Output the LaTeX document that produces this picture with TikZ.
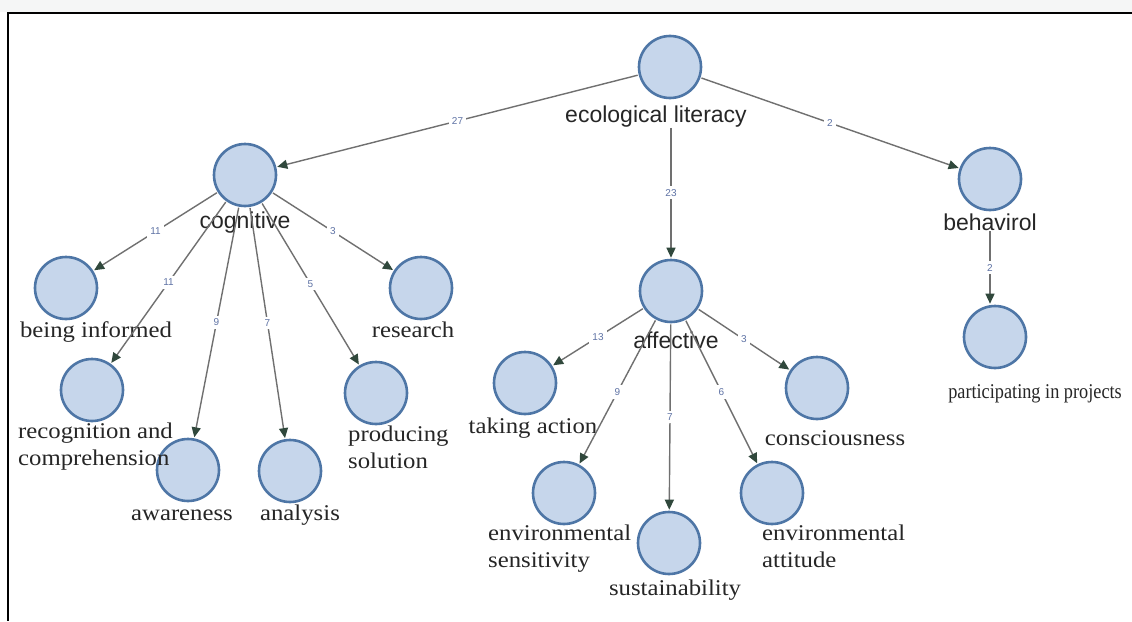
\documentclass[tikz,border=0pt]{standalone}
\usepackage{fontspec}
\usetikzlibrary{arrows.meta}

\setmainfont{Liberation Serif}
\newfontfamily\labelsans{Liberation Sans}
\newfontfamily\labelserif[FakeStretch=1.1]{Liberation Serif}
\newfontfamily\labelnarrow[FakeStretch=0.87]{Liberation Serif}

\definecolor{nodefill}{RGB}{198,214,235}
\definecolor{nodeborder}{RGB}{78,118,166}
\definecolor{edgecolor}{RGB}{112,112,112}
\definecolor{tipcolor}{RGB}{48,72,60}
\definecolor{numcolor}{RGB}{95,115,165}
\definecolor{bandcolor}{RGB}{245,246,246}

\tikzset{
    concept/.style={circle, draw=nodeborder, fill=nodefill, line width=2.6pt, minimum size=62pt, inner sep=0pt},
    toplabel/.style={font=\labelsans\fontsize{23}{27}\selectfont, text=black!85, inner sep=0pt, anchor=base},
    leaflabel/.style={font=\labelserif\fontsize{22.5}{27}\selectfont, text=black!85, inner sep=0pt, anchor=base},
    leafpair/.style={leaflabel, align=left, anchor=north west},
    edge/.style={draw=edgecolor, line width=1.4pt, -{Triangle[length=10pt, width=9pt, color=tipcolor]}, shorten <=1pt, shorten >=1pt},
    num/.style={font=\labelsans\fontsize{10}{11}\selectfont, text=numcolor, fill=white, inner sep=3pt, midway}
}

\begin{document}
\begin{tikzpicture}[x=1pt, y=-1pt]
    % Frame of the page
    \useasboundingbox (0,0) rectangle (1132,621);
    \fill[white] (0,0) rectangle (1132,621);
    \fill[bandcolor] (0,0) rectangle (1132,12);
    \draw[line width=2pt] (1132,13) -- (8,13) -- (8,621);

    % Draw the concept circles
    \node[concept] (eco) at (670,67) {};
    \node[concept] (cog) at (245,175) {};
    \node[concept] (aff) at (671,291) {};
    \node[concept] (beh) at (990,179) {};

    \node[concept] (inf) at (66,288) {};
    \node[concept] (res) at (421,288) {};
    \node[concept] (rec) at (92,390) {};
    \node[concept] (awa) at (188,470) {};
    \node[concept] (ana) at (290,471) {};
    \node[concept] (pro) at (376,393) {};

    \node[concept] (tak) at (525,383) {};
    \node[concept] (con) at (817,388) {};
    \node[concept] (sen) at (564,493) {};
    \node[concept] (sus) at (669,543) {};
    \node[concept] (att) at (772,493) {};

    \node[concept] (par) at (995,337) {};

    % Add the names
    \node[toplabel] (ecoT) at (656,122) {ecological literacy};
    \node[toplabel] (cogT) at (245,228) {cognitive};
    \node[toplabel] (affT) at (676,348) {affective};
    \node[toplabel] (behT) at (990,230) {behavirol};

    \node[leaflabel] (infT) at (96,337) {being informed};
    \node[leaflabel] (resT) at (413,337) {research};
    \node[leafpair] (recT) at (18,423) {recognition and\\comprehension};
    \node[leaflabel] (awaT) at (182,520) {awareness};
    \node[leaflabel] (anaT) at (300,520) {analysis};
    \node[leafpair] (proT) at (348,426) {producing\\solution};

    \node[leaflabel] (takT) at (533,433) {taking action};
    \node[leaflabel] (conT) at (835,445) {consciousness};
    \node[leafpair] (senT) at (488,525) {environmental\\sensitivity};
    \node[leaflabel] (susT) at (675,595) {sustainability};
    \node[leafpair] (attT) at (762,525) {environmental\\attitude};

    \node[leaflabel, font=\labelnarrow\fontsize{21}{25}\selectfont] (parT) at (1035,398) {participating in projects};

    % Connect the levels
    \draw[edge] (eco) -- node[num] {27} (cog);
    \draw[edge] (ecoT.south -| aff.north) -- node[num] {23} (aff);
    \draw[edge] (eco) -- node[num] {2} (beh);

    \draw[edge] (cog) -- node[num] {11} (inf);
    \draw[edge] (cog) -- node[num] {11} (rec);
    \draw[edge] (cog) -- node[num] {9} (awa);
    \draw[edge] (cog) -- node[num] {7} (ana);
    \draw[edge] (cog) -- node[num] {5} (pro);
    \draw[edge] (cog) -- node[num] {3} (res);

    \draw[edge] (aff) -- node[num] {13} (tak);
    \draw[edge] (aff) -- node[num] {9} (sen);
    \draw[edge] (aff) -- node[num] {7} (sus);
    \draw[edge] (aff) -- node[num] {6} (att);
    \draw[edge] (aff) -- node[num] {3} (con);

    \draw[edge] (behT.south) -- node[num] {2} (behT.south |- par.north);
\end{tikzpicture}
\end{document}
